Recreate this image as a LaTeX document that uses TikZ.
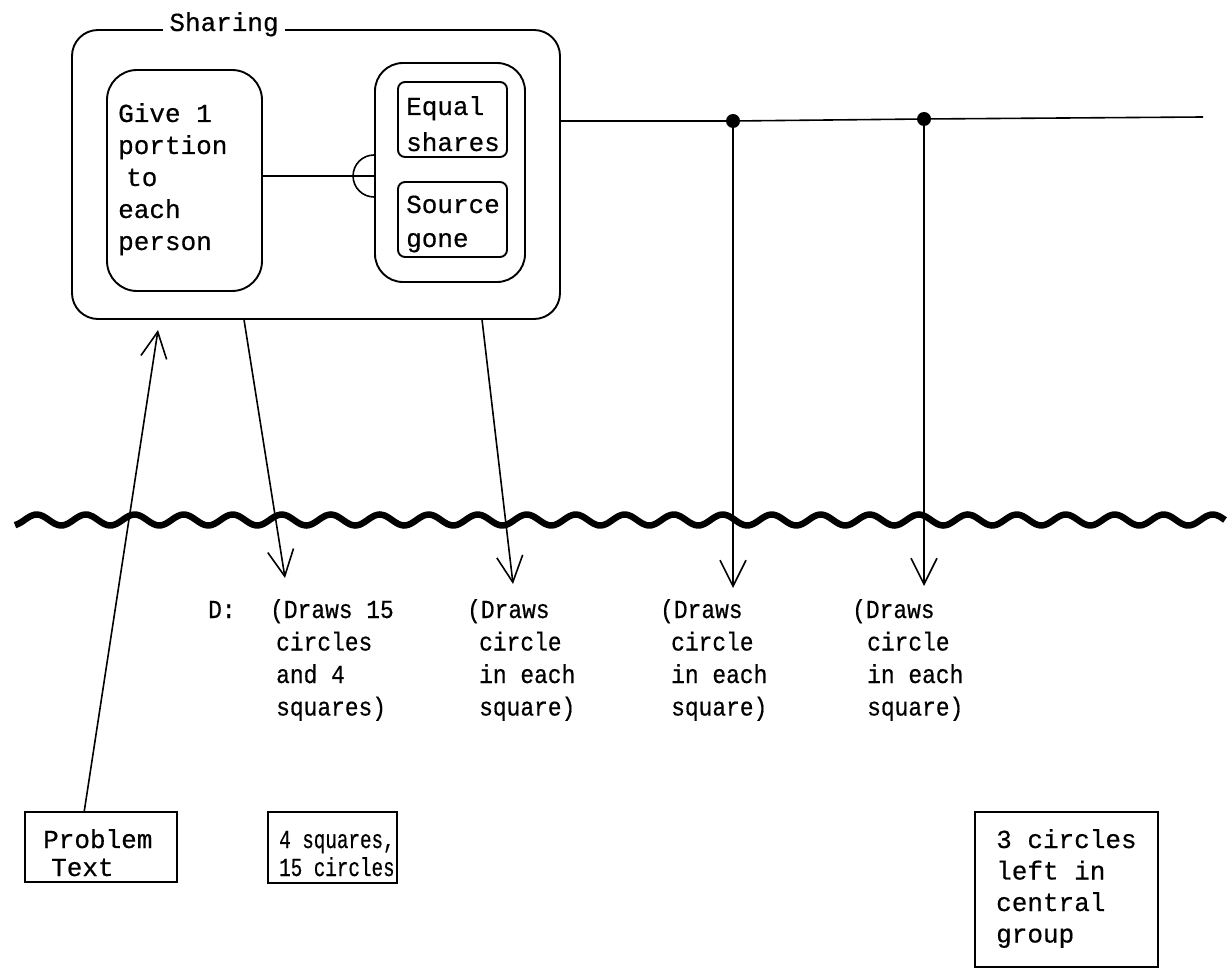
\documentclass[tikz,border=0pt]{standalone}
\usepackage{fontspec}
\setmonofont{Liberation Mono}[FakeBold=0.5]
\newfontfamily\labelfont{Liberation Mono}[FakeStretch=0.88,FakeBold=0.5]
\newfontfamily\condfont{Liberation Mono}[FakeStretch=0.74,FakeBold=0.5]
\usetikzlibrary{arrows.meta,calc}
\newcommand{\mylines}[1]{\begin{tabular}[t]{@{}l@{}}#1\end{tabular}}
\begin{document}
\begin{tikzpicture}[x=1pt,y=-1pt,
  rbox/.style={draw, line width=1.9pt, rounded corners=#1, inner sep=0pt},
  rbox/.default=28pt,
  sqbox/.style={draw, line width=1.5pt, inner sep=0pt},
  conn/.style={line width=1.6pt},
  arr/.style={line width=1.6pt, -{Straight Barb[length=26pt,width=26pt,line width=1.6pt]}},
  txt/.style={font=\ttfamily\fontsize{26}{32}\selectfont, inner sep=0pt, anchor=base west},
  lbl/.style={font=\labelfont\fontsize{26}{32.5}\selectfont, inner sep=0pt, anchor=base west},
  dotm/.style={fill=black}
]
\useasboundingbox (0,0) rectangle (1228,973);

% boxes
\node[rbox=26pt, minimum width=488pt, minimum height=289pt] (sharing) at (316,174.5) {};
\node[rbox=30pt, minimum width=155pt, minimum height=221pt] (give) at (184.5,180.5) {};
\node[rbox=28pt, minimum width=150pt, minimum height=219pt] (cond) at (450,172.5) {};
\node[rbox=7pt, minimum width=109pt, minimum height=75pt] (eq) at (452.5,119.5) {};
\node[rbox=7pt, minimum width=109pt, minimum height=75pt] (src) at (452.5,219.5) {};
\node[sqbox, minimum width=152pt, minimum height=70pt] (prob) at (101,847) {};
\node[sqbox, minimum width=129pt, minimum height=71pt] (sq4) at (332.5,847.5) {};
\node[sqbox, minimum width=183pt, minimum height=155pt] (left3) at (1066.5,889.5) {};

% title of the sharing box
\node[font=\ttfamily\fontsize{26}{32}\selectfont, fill=white, inner xsep=6pt, inner ysep=2pt, anchor=base] (title) at (224,31) {Sharing};

% texts in boxes
\node[txt] (givetxt) at (118,122) {\mylines{Give 1\\portion\\\hspace{8pt}to\\each\\person}};
\node[txt, font=\ttfamily\fontsize{26}{36}\selectfont] (eqtxt) at (406,115) {\mylines{Equal\\shares}};
\node[txt, font=\ttfamily\fontsize{26}{34}\selectfont] (srctxt) at (406,213) {\mylines{Source\\gone}};
\node[txt, font=\ttfamily\fontsize{26}{28}\selectfont] (probtxt) at (43,848) {\mylines{Problem\\\hspace{8pt}Text}};
\node[txt, font=\condfont\fontsize{26}{28}\selectfont] (sq4txt) at (279,848) {\mylines{4 squares,\\15 circles}};
\node[txt, font=\ttfamily\fontsize{26}{31.5}\selectfont] (left3txt) at (996,848) {\mylines{3 circles\\left in\\central\\group}};

% labels below the wave
\node[lbl] (dlab) at (208,618) {D:};
\node[lbl] (g1) at (270,618) {\mylines{(Draws 15\\\hspace{6pt}circles\\\hspace{6pt}and 4\\\hspace{6pt}squares)}};
\node[lbl] (g2) at (467,618) {\mylines{(Draws\\\hspace{12pt}circle\\\hspace{12pt}in each\\\hspace{12pt}square)}};
\node[lbl] (g3) at (660,618) {\mylines{(Draws\\\hspace{11pt}circle\\\hspace{11pt}in each\\\hspace{11pt}square)}};
\node[lbl] (g4) at (852,618) {\mylines{(Draws\\\hspace{15pt}circle\\\hspace{15pt}in each\\\hspace{15pt}square)}};

% coordinates
\coordinate (d1) at (733,121);
\coordinate (d2) at (924,119);
\coordinate (lineend) at (1203,117);
\coordinate (t1) at (285,578);
\coordinate (t2) at (513,584);
\coordinate (t3) at (733,588);
\coordinate (t4) at (924,586);
\coordinate (tp) at (158,330);

% connector between give and the condition box, with semicircle
\draw[conn] (give.east |- 0,176) -- (cond.west |- 0,176);
\draw[conn] ($(cond.west |- 0,176)+(0,21)$) arc[start angle=90, end angle=270, radius=21];

% horizontal line with branch dots
\draw[conn] ($(sharing.north east)+(0,92)$) -- (d1) -- (d2) -- (lineend);
\fill[dotm] (d1) circle[radius=7pt];
\fill[dotm] (d2) circle[radius=7pt];

% arrows
\draw[arr] ($(sharing.south west)+(173,0)$) -- (t1);
\draw[arr] ($(sharing.south west)+(411,0)$) -- (t2);
\draw[arr] (d1) -- (t3);
\draw[arr] (d2) -- (t4);
\draw[arr] ($(prob.north west)+(60,0)$) -- (tp);

% wavy line
\draw[line width=6.5pt] plot[smooth, domain=15:1225, samples=250] (\x, {520+5.5*sin(\x*7.3469)});
\end{tikzpicture}
\end{document}
